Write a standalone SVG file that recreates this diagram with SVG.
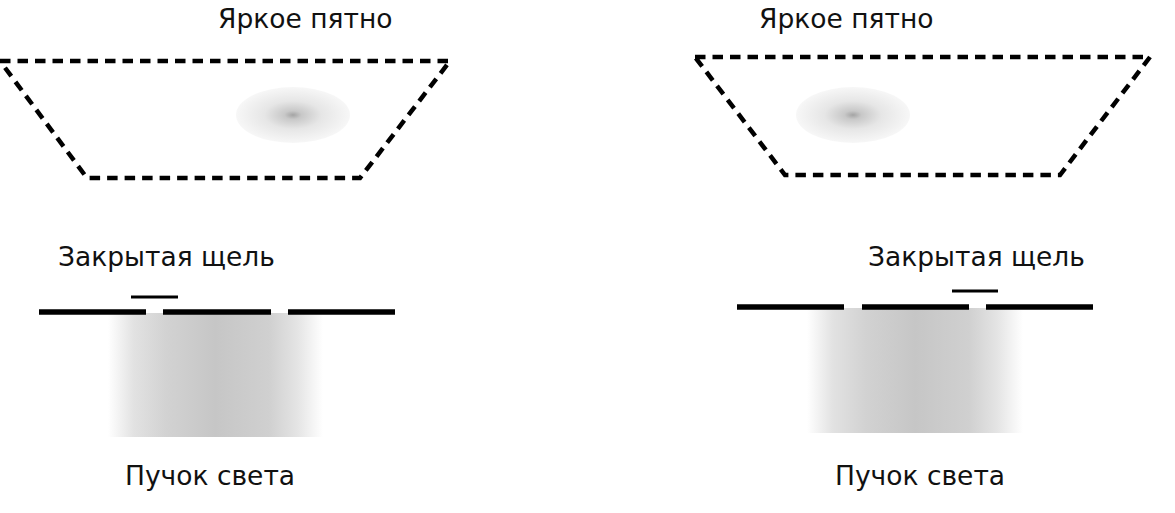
<svg xmlns="http://www.w3.org/2000/svg" width="1175" height="513" viewBox="0 0 1175 513">
<style>
.lbl{font-family:"DejaVu Sans","Noto Sans",sans-serif;font-size:26.5px;fill:#111}
.dash{fill:none;stroke:#000;stroke-width:4.5;stroke-dasharray:10.5 7}
.bar{stroke:#000;stroke-width:5.5}
.cover{stroke:#000;stroke-width:3}
</style>
<defs>
<radialGradient id="spot" cx="0.5" cy="0.5" r="0.5">
<stop offset="0" stop-color="#a4a4a4"/>
<stop offset="0.15" stop-color="#c8c8c8"/>
<stop offset="0.5" stop-color="#e6e6e6"/>
<stop offset="1" stop-color="#f7f7f7"/>
</radialGradient>
<linearGradient id="beam" x1="0" y1="0" x2="1" y2="0">
<stop offset="0" stop-color="#fff"/>
<stop offset="0.12" stop-color="#e2e2e2"/>
<stop offset="0.27" stop-color="#d2d2d2"/>
<stop offset="0.5" stop-color="#c6c6c6"/>
<stop offset="0.75" stop-color="#d0d0d0"/>
<stop offset="0.88" stop-color="#e4e4e4"/>
<stop offset="1" stop-color="#fff"/>
</linearGradient>
</defs>
<rect width="1175" height="513" fill="#fff"/>
<g id="left-panel">
<g id="left-spot-label"><text class="lbl" x="218" y="28">Яркое пятно</text></g>
<g id="left-screen">
<polygon class="dash" points="0,61 450,61 360,178 87,178"/>
<ellipse cx="293" cy="115" rx="57" ry="28" fill="url(#spot)"/>
</g>
<g id="left-slit-label"><text class="lbl" x="58" y="266">Закрытая щель</text></g>
<g id="left-beam"><rect x="108" y="313" width="215" height="124" fill="url(#beam)"/></g>
<g id="left-slit">
<line class="bar" x1="39" y1="312" x2="146" y2="312"/>
<line class="bar" x1="163" y1="312" x2="271" y2="312"/>
<line class="bar" x1="288" y1="312" x2="395" y2="312"/>
<line class="cover" x1="131" y1="297" x2="178" y2="297"/>
</g>
<g id="left-beam-label"><text class="lbl" x="125" y="485">Пучок света</text></g>
</g>
<g id="right-panel">
<g id="right-spot-label"><text class="lbl" x="759" y="28">Яркое пятно</text></g>
<g id="right-screen">
<polygon class="dash" points="695,57 1150,57 1060,175 785,175"/>
<ellipse cx="853" cy="115" rx="57" ry="28" fill="url(#spot)"/>
</g>
<g id="right-slit-label"><text class="lbl" x="868" y="266">Закрытая щель</text></g>
<g id="right-beam"><rect x="807" y="308" width="216" height="125" fill="url(#beam)"/></g>
<g id="right-slit">
<line class="bar" x1="737" y1="307" x2="844" y2="307"/>
<line class="bar" x1="862" y1="307" x2="969" y2="307"/>
<line class="bar" x1="986" y1="307" x2="1093" y2="307"/>
<line class="cover" x1="952" y1="291" x2="998" y2="291"/>
</g>
<g id="right-beam-label"><text class="lbl" x="835" y="485">Пучок света</text></g>
</g>
<g id="connectors"/>
</svg>
